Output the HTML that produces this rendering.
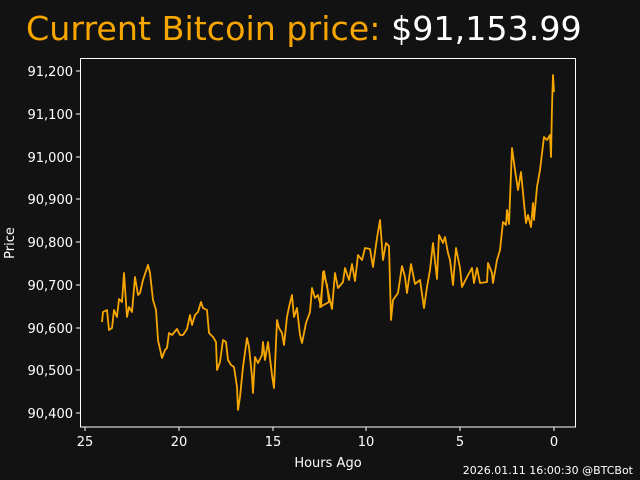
<!DOCTYPE html>
<html><head><style>
html,body{margin:0;padding:0;background:#121212;}
svg{display:block;font-family:"DejaVu Sans","Liberation Sans",sans-serif;}
</style></head><body>
<svg width="640" height="480" viewBox="0 0 640 480">
<rect width="640" height="480" fill="#121212"/>
<text x="26" y="40" font-size="33.3" fill="#f7a600">Current Bitcoin price: <tspan fill="#ffffff">$91,153.99</tspan></text>
<rect x="80.5" y="58.5" width="495" height="368.5" fill="none" stroke="#ffffff" stroke-width="1"/>
<g fill="#fff" font-size="13" text-anchor="end">
<g stroke="#fff"><line x1="76" x2="80" y1="71" y2="71"/><line x1="76" x2="80" y1="114" y2="114"/><line x1="76" x2="80" y1="157" y2="157"/><line x1="76" x2="80" y1="199" y2="199"/><line x1="76" x2="80" y1="242" y2="242"/><line x1="76" x2="80" y1="285" y2="285"/><line x1="76" x2="80" y1="328" y2="328"/><line x1="76" x2="80" y1="370" y2="370"/><line x1="76" x2="80" y1="413" y2="413"/></g>
<text x="73" y="76">91,200</text><text x="73" y="119">91,100</text><text x="73" y="162">91,000</text><text x="73" y="204">90,900</text><text x="73" y="247">90,800</text><text x="73" y="290">90,700</text><text x="73" y="333">90,600</text><text x="73" y="375">90,500</text><text x="73" y="418">90,400</text>
</g>
<g fill="#fff" font-size="13" text-anchor="middle">
<g stroke="#fff"><line x1="85" x2="85" y1="427" y2="431"/><line x1="179" x2="179" y1="427" y2="431"/><line x1="273" x2="273" y1="427" y2="431"/><line x1="366" x2="366" y1="427" y2="431"/><line x1="460" x2="460" y1="427" y2="431"/><line x1="554" x2="554" y1="427" y2="431"/></g>
<text x="85" y="446">25</text><text x="179" y="446">20</text><text x="273" y="446">15</text><text x="366" y="446">10</text><text x="460" y="446">5</text><text x="554" y="446">0</text>
<text x="328" y="467">Hours Ago</text>
</g>
<text transform="translate(14,243) rotate(-90)" fill="#fff" font-size="13" text-anchor="middle">Price</text>
<text x="633" y="474" fill="#fff" font-size="11" text-anchor="end">2026.01.11 16:00:30 @BTCBot</text>
<polyline fill="none" stroke="#f7a600" stroke-width="1.8" stroke-linejoin="round" points="102,322 103,312 107,310 109,330 112,328 114,310 117,317 119,299 122,302 124,273 127,317 129,307 132,312 135,277 138,295 140,293 143,280 148,265 150,273 153,300 156,310 158,340 162,358 165,350 167,348 169,333 172,335 177,329 180,335 183,335 187,329 190,315 192,325 195,315 198,312 201,302 203,308 207,310 209,333 213,337 216,342 217,370 220,362 223,340 226,342 228,360 231,365 234,367 237,387 238,410 240,397 243,367 247,338 249,347 252,377 253,393 255,357 258,363 262,355 263,342 265,360 268,342 272,375 274,388 277,320 279,328 282,333 284,345 287,317 289,307 292,295 294,317 297,308 300,335 302,343 306,323 310,312 312,288 315,298 318,295 321,307 323,272 327,285 329,302 320,307 324,271 327,287 332,309 335,273 338,288 343,282 345,268 349,280 352,264 355,281 358,255 362,260 365,248 370,249 373,267 375,252 377,238 380,220 383,260 386,243 389,246 391,320 393,300 398,293 402,266 405,277 407,293 411,264 415,284 420,280 424,308 427,287 430,270 433,243 437,279 439,235 443,243 445,237 448,253 450,260 453,285 456,248 460,268 462,287 467,277 472,268 474,283 477,268 480,283 487,282 488,263 492,273 493,283 497,260 500,250 503,222 506,225 507,210 509,224 512,148 515,170 518,190 521,172 524,203 526,223 528,215 531,227 533,203 534,220 537,187 540,170 544,137 547,140 550,135 551,157 552,107 553,75 554,92"/>
</svg>
</body></html>
